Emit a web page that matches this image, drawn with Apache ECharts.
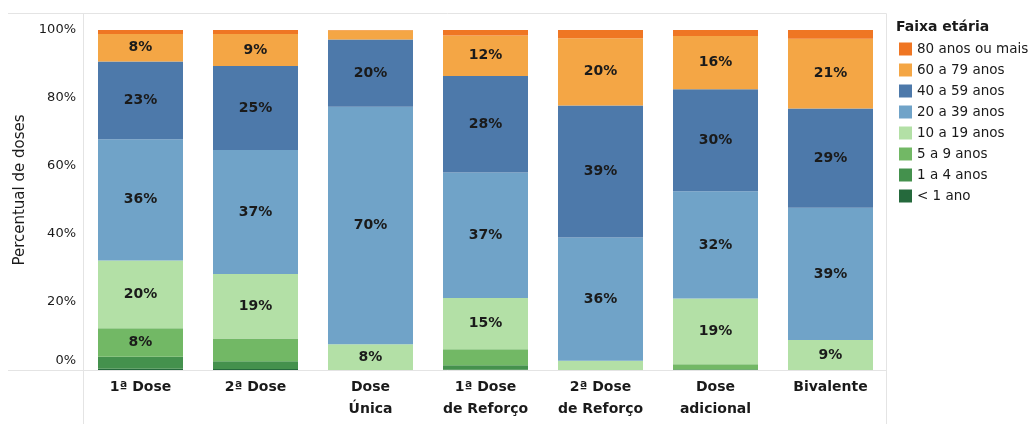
<!DOCTYPE html>
<html>
<head>
<meta charset="utf-8">
<script src="https://cdn.jsdelivr.net/npm/echarts@6/dist/echarts.min.js"></script>
<style>
  html, body { margin: 0; padding: 0; background: #fff; }
  #chart { width: 1030px; height: 424px; }
</style>
</head>
<body>
<div id="chart"></div>
<script>
// doses por categoria
var categories = ['1ª Dose', '2ª Dose', 'Dose\nÚnica', '1ª Dose\nde Reforço', '2ª Dose\nde Reforço', 'Dose\nadicional', 'Bivalente'];

// faixas etárias, de baixo para cima (percentual)
var menos1 = [0.4, 0.3, 0, 0.1, 0, 0, 0];
var de1a4 = [3.5, 2.3, 0, 1.3, 0, 0.2, 0];
var de5a9 = [8.4, 6.7, 0, 4.7, 0, 1.5, 0];
var de10a19 = [19.9, 18.9, 7.6, 15.1, 2.7, 19.3, 8.8];
var de20a39 = [35.7, 36.5, 69.8, 36.9, 36.3, 31.6, 38.9];
var de40a59 = [22.8, 24.7, 19.8, 28.4, 38.8, 30.0, 29.2];
var de60a79 = [8.1, 9.4, 2.7, 11.9, 19.8, 15.6, 20.5];
var mais80 = [1.2, 1.2, 0.1, 1.6, 2.4, 1.8, 2.6];

var yTicks = [0, 20, 40, 60, 80, 100];

var faixas = [
    { name: '< 1 ano', data: menos1, color: '#25693c' },
    { name: '1 a 4 anos', data: de1a4, color: '#44914d' },
    { name: '5 a 9 anos', data: de5a9, color: '#72b865' },
    { name: '10 a 19 anos', data: de10a19, color: '#b3e0a6' },
    { name: '20 a 39 anos', data: de20a39, color: '#70a3c8' },
    { name: '40 a 59 anos', data: de40a59, color: '#4d79aa' },
    { name: '60 a 79 anos', data: de60a79, color: '#f4a645' },
    { name: '80 anos ou mais', data: mais80, color: '#ef7623' }
];

var fonte = '"DejaVu Sans", sans-serif';
var chart = echarts.init(document.getElementById('chart'));

var series = faixas.map(function (f) {
    return {
        type: 'bar',
        name: f.name,
        stack: 'total',
        barWidth: 85,
        data: f.data,
        itemStyle: { color: f.color },
        label: {
            show: true,
            position: 'inside',
            color: '#1a1a1a',
            fontSize: 14,
            fontWeight: 'bold',
            fontFamily: fonte,
            formatter: function (p) {
                return p.value >= 7.5 ? Math.round(p.value) + '%' : '';
            }
        },
        emphasis: { disabled: true }
    };
});

var linha = { stroke: '#e4e4e4', lineWidth: 1 };

chart.setOption({
    animation: false,
    textStyle: { fontFamily: fonte },
    title: {
        text: 'Faixa etária',
        left: 891,
        top: 15,
        textStyle: { fontSize: 14, fontWeight: 'bold', color: '#1a1a1a', fontFamily: fonte }
    },
    legend: {
        orient: 'vertical',
        left: 894,
        top: 37,
        itemWidth: 13,
        itemHeight: 13,
        itemGap: 7,
        icon: 'rect',
        data: faixas.map(function (f) { return f.name; }).reverse(),
        textStyle: { fontSize: 13.5, color: '#1a1a1a', fontFamily: fonte }
    },
    grid: { left: 83, top: 30, width: 805, height: 340, containLabel: false },
    xAxis: {
        type: 'category',
        data: categories,
        axisLine: { show: false },
        axisTick: { show: false },
        axisLabel: {
            margin: 6,
            fontSize: 14,
            fontWeight: 'bold',
            color: '#1a1a1a',
            lineHeight: 22,
            fontFamily: fonte
        }
    },
    yAxis: {
        type: 'value',
        min: 0,
        max: 100,
        interval: 20,
        name: 'Percentual de doses',
        nameLocation: 'middle',
        nameGap: 52,
        nameTextStyle: { fontSize: 15, color: '#1a1a1a', fontFamily: fonte, padding: [0, 0, 0, 20] },
        splitLine: { show: false },
        axisLine: { show: false },
        axisTick: { show: false },
        axisLabel: {
            margin: 7,
            fontSize: 13,
            color: '#1a1a1a',
            fontFamily: fonte,
            formatter: function (v) {
                if (yTicks.indexOf(v) < 0) return '';
                return v === 0 ? '{z|0%}' : v + '%';
            },
            rich: { z: { fontSize: 13, color: '#1a1a1a', padding: [0, 0, 18, 0] } }
        }
    },
    graphic: [
        { type: 'line', shape: { x1: 8, y1: 13.5, x2: 886.5, y2: 13.5 }, style: linha, silent: true },
        { type: 'line', shape: { x1: 8, y1: 370.5, x2: 886.5, y2: 370.5 }, style: linha, silent: true },
        { type: 'line', shape: { x1: 83.5, y1: 13.5, x2: 83.5, y2: 424 }, style: linha, silent: true },
        { type: 'line', shape: { x1: 886.5, y1: 13.5, x2: 886.5, y2: 424 }, style: linha, silent: true }
    ],
    series: series
});
</script>
</body>
</html>
